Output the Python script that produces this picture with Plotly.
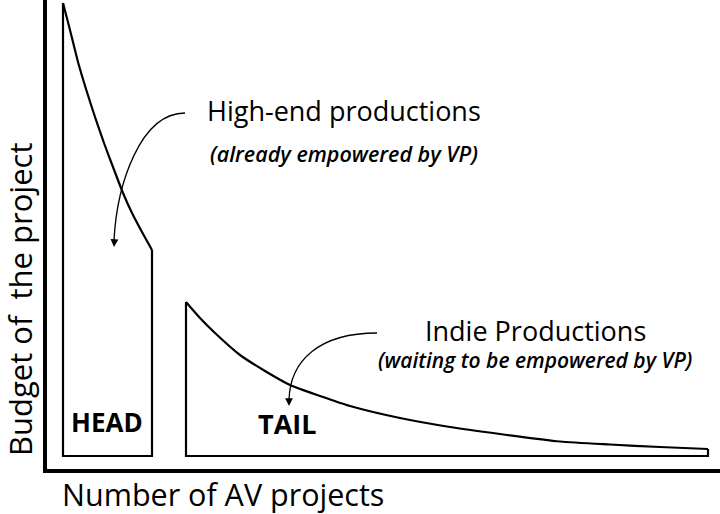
import plotly.graph_objects as go

# ---- data ----
# HEAD: high-end productions, ranked by budget
head_rank = [0, 7, 15, 23, 32, 41, 50, 60, 69, 79, 89]
head_budget = [453, 426, 394, 367, 339, 313, 289, 263, 243, 224, 206]

# TAIL: indie productions, ranked by budget
tail_rank = [123, 137, 152, 177, 202, 227, 257, 287, 337, 387, 437, 497, 547, 597, 645]
tail_budget = [154, 138, 123, 101, 85, 71, 60, 50, 38, 29, 22, 14.5, 11.5, 9, 7]

labels = {
    "head": "HEAD",
    "tail": "TAIL",
    "high": "High-end productions",
    "high_sub": "(already empowered by VP)",
    "indie": "Indie Productions",
    "indie_sub": "(waiting to be empowered by VP)",
    "xtitle": "Number of AV projects",
    "ytitle": "Budget of\u00a0 the project",
}

FONT = "Open Sans"
LW = 2.2

ML, MB, W, H = 47, 45, 720, 514
PW, PH = W - ML, H - MB

fig = go.Figure()


def add_block(xs, ys):
    # smooth top curve
    fig.add_trace(go.Scatter(x=xs, y=ys, mode="lines",
                             line=dict(color="black", width=LW, shape="spline", smoothing=0.6),
                             hoverinfo="skip", showlegend=False))
    # box edges (left, bottom, right)
    fig.add_trace(go.Scatter(x=[xs[0], xs[0], xs[-1], xs[-1]], y=[ys[0], 0, 0, ys[-1]],
                             mode="lines", line=dict(color="black", width=LW),
                             hoverinfo="skip", showlegend=False))


add_block(head_rank, head_budget)
add_block(tail_rank, tail_budget)


# pixel -> data / paper helpers for annotation placement
def P(px, py):
    return px - 63, 456 - py


def PP(px, py):
    return (px - ML) / PW, (PH - py) / PH


annots = []


def text(s, px, py, size, weight="normal", style="normal", angle=0):
    x, y = PP(px, py)
    annots.append(dict(x=x, y=y, xref="paper", yref="paper", text=s, showarrow=False,
                       xanchor="center", yanchor="middle", textangle=angle,
                       font=dict(family=FONT, size=size, color="black", weight=weight, style=style)))


text(labels["high"], 344, 110, 27)
text(labels["high_sub"], 344, 153, 21.5, weight=600, style="italic")
text(labels["indie"], 535, 330, 27)
text(labels["indie_sub"], 535, 360, 21, weight=600, style="italic")
text(labels["head"], 107, 422, 26, weight="bold")
text(labels["tail"], 287, 423, 27, weight="bold")
text(labels["xtitle"], 223, 494, 30.5)
text(labels["ytitle"], 20, 300, 31, angle=-90)


# arrowheads
def arrowhead(tip, back):
    x, y = P(*tip)
    ax, ay = P(*back)
    annots.append(dict(x=x, y=y, ax=ax, ay=ay, xref="x", yref="y", axref="x", ayref="y",
                       text="", showarrow=True, arrowhead=2, arrowsize=1.3, arrowwidth=1.2,
                       arrowcolor="black"))


arrowhead((114, 247), (114.5, 238))
arrowhead((289, 406), (289, 397))


def curve(p0, p1, p2, p3):
    pts = [P(*p) for p in (p0, p1, p2, p3)]
    path = "M {},{} C {},{} {},{} {},{}".format(*[v for pt in pts for v in pt])
    return dict(type="path", path=path, xref="x", yref="y",
                line=dict(color="black", width=1.3))


shapes = [
    curve((185, 113), (140, 113), (117, 185), (114, 240)),
    curve((377, 333), (320, 333), (290, 360), (289, 400)),
]

axis_common = dict(showline=True, linewidth=4, linecolor="black", showgrid=False,
                   zeroline=False, showticklabels=False, ticks="", fixedrange=True)

fig.update_layout(
    width=W, height=H,
    margin=dict(l=ML, r=0, t=0, b=MB),
    paper_bgcolor="white", plot_bgcolor="white",
    xaxis=dict(range=[-16, 657], **axis_common),
    yaxis=dict(range=[-13, 456], **axis_common),
    annotations=annots,
    shapes=shapes,
    showlegend=False,
)

fig.write_html("out.html", config={"displayModeBar": False},
               post_script="document.body.style.margin='0px';document.body.style.overflow='hidden';")
